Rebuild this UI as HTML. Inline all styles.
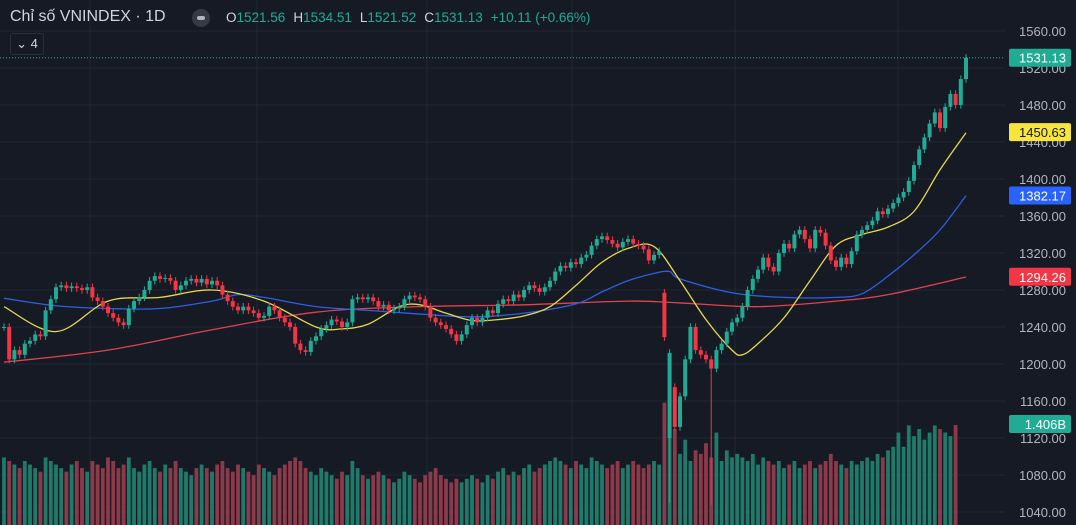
<!DOCTYPE html>
<html><head><meta charset="utf-8">
<style>
html,body{margin:0;padding:0;background:#161a25;}
body{width:1076px;height:525px;overflow:hidden;position:relative;font-family:"Liberation Sans","Noto Sans CJK SC",sans-serif;}
svg{position:absolute;left:0;top:0;}
.hdr{position:absolute;left:10px;top:8px;color:#d1d4dc;font-size:16px;white-space:nowrap;}
.ohlc{position:absolute;left:226px;top:10px;font-size:13.5px;color:#d1d4dc;white-space:nowrap;}
.ohlc .v{color:#22ab94;margin-right:8px;}
</style></head><body>
<svg id="chart" width="1076" height="525"></svg>
<div class="hdr">Chỉ số VNINDEX · 1D</div>
<div style="position:absolute;left:192px;top:9px;width:18px;height:18px;border-radius:9px;background:#363a45;"><div style="position:absolute;left:5px;top:7px;width:8px;height:4px;border-radius:2px;background:#b2b5be"></div></div>
<div class="ohlc">O<span class="v">1521.56</span>H<span class="v">1534.51</span>L<span class="v">1521.52</span>C<span class="v">1531.13</span><span class="v">+10.11 (+0.66%)</span></div>
<div style="position:absolute;left:10px;top:33px;width:32px;height:20px;border:1px solid #2a2e39;border-radius:3px;color:#d1d4dc;font-size:13px;line-height:20px;text-align:center;">⌄ 4</div>
<script>
const closes=[1240,1205,1215,1210,1222,1225,1232,1230,1258,1270,1283,1285,1282,1284,1282,1280,1283,1272,1268,1262,1255,1250,1245,1242,1260,1268,1272,1280,1290,1295,1292,1293,1290,1280,1285,1290,1292,1288,1292,1286,1290,1285,1275,1268,1262,1258,1262,1258,1255,1250,1252,1262,1258,1250,1245,1240,1222,1215,1213,1225,1230,1238,1242,1248,1246,1240,1245,1270,1272,1270,1272,1268,1262,1264,1258,1260,1262,1270,1274,1272,1270,1262,1250,1245,1242,1238,1232,1225,1232,1242,1250,1245,1250,1258,1255,1265,1270,1268,1275,1272,1280,1285,1282,1278,1283,1290,1300,1306,1304,1310,1308,1315,1318,1328,1335,1338,1334,1330,1326,1332,1335,1330,1328,1324,1312,1318,1322,1229,1212,1132,1165,1205,1240,1215,1210,1205,1195,1215,1222,1235,1245,1250,1262,1280,1292,1302,1315,1305,1300,1320,1330,1325,1340,1345,1335,1325,1345,1342,1328,1312,1305,1315,1308,1322,1340,1345,1350,1355,1365,1362,1368,1374,1380,1386,1398,1415,1432,1445,1460,1472,1455,1478,1492,1480,1508,1531];
const specialOpenIdx=[127,128,129];
const specialOpenVal=[1277,1120,1175];
const specialLowIdx=[128,136];
const specialLowVal=[1050,1048];
const volumes=[0.95,0.9,0.85,0.8,0.9,0.85,0.8,0.75,0.95,0.9,0.85,0.8,0.75,0.85,0.9,0.8,0.75,0.9,0.85,0.8,0.95,0.9,0.8,0.85,0.95,0.8,0.75,0.85,0.9,0.8,0.75,0.85,0.8,0.9,0.8,0.75,0.7,0.8,0.85,0.8,0.75,0.85,0.9,0.8,0.75,0.85,0.8,0.75,0.7,0.85,0.8,0.75,0.7,0.8,0.85,0.9,0.95,0.9,0.8,0.75,0.7,0.8,0.75,0.7,0.65,0.75,0.7,0.9,0.8,0.7,0.65,0.7,0.75,0.7,0.65,0.6,0.65,0.75,0.7,0.65,0.6,0.7,0.75,0.8,0.7,0.65,0.6,0.65,0.6,0.65,0.7,0.65,0.6,0.7,0.65,0.75,0.8,0.7,0.75,0.7,0.8,0.85,0.75,0.8,0.85,0.9,0.95,0.9,0.85,0.8,0.9,0.85,0.8,0.95,0.9,0.85,0.8,0.85,0.9,0.8,0.85,0.9,0.85,0.8,0.85,0.9,0.85,1.72,1.45,1.35,1.0,1.2,0.9,1.05,1.0,1.15,0.95,1.3,0.9,1.05,0.95,1.0,0.95,0.9,1.0,0.85,0.95,0.9,0.85,0.9,0.8,0.85,0.9,0.8,0.85,0.9,0.8,0.85,0.9,1.0,0.9,0.85,0.8,0.9,0.85,0.9,0.95,0.9,1.0,0.95,1.05,1.1,1.3,1.1,1.4,1.25,1.35,1.2,1.3,1.4,1.35,1.3,1.25,1.406];
const maYellowIdx=[0,10,20,30,40,50,60,65,70,76,80,85,90,95,100,105,110,115,120,125,130,135,140,142,145,150,155,160,165,170,175,180,185];
const maYellowVal=[1262,1235,1268,1272,1280,1268,1240,1238,1243,1262,1264,1255,1247,1248,1252,1262,1285,1310,1325,1327,1290,1248,1215,1210,1222,1250,1290,1328,1340,1348,1365,1410,1450];
const maBlueIdx=[0,10,20,30,40,45,50,60,70,80,90,100,110,115,120,125,128,130,140,150,160,165,170,175,180,185];
const maBlueVal=[1271,1263,1260,1260,1268,1275,1272,1262,1258,1254,1251,1255,1265,1278,1290,1298,1300,1292,1277,1272,1272,1276,1295,1318,1345,1382];
const maRedIdx=[0,20,40,60,80,100,120,130,145,160,170,185];
const maRedVal=[1202,1215,1237,1256,1262,1264,1268,1266,1262,1268,1275,1294];
const priceTicks=[1560,1520,1480,1440,1400,1360,1320,1280,1240,1200,1160,1120,1080,1040];

const NS="http://www.w3.org/2000/svg";
const svg=document.getElementById('chart');
const Y=v=>31+(1560-v)*0.925;
const X=i=>4+i*5.2;
const VY=v=>525-v*(100/1.406);
function el(t,a){const e=document.createElementNS(NS,t);for(const k in a)e.setAttribute(k,a[k]);svg.appendChild(e);return e;}

for(const t of priceTicks){const g=el('line',{x1:0,x2:1005,y1:Y(t),y2:Y(t),stroke:'#232734','stroke-width':1});

}
for(const gx of [90,257,427,572,735,898]){const g=el('line',{x1:gx,x2:gx,y1:0,y2:525,stroke:'#232734','stroke-width':1});

}

closes.forEach((c,i)=>{
  let o=i>0?closes[i-1]:c; const si=specialOpenIdx.indexOf(i); if(si>=0)o=specialOpenVal[si];
  const up=c>=o; const y=VY(volumes[i]);
  const r=el('rect',{x:X(i)-1.9,y:y,width:3.8,height:525-y,fill:up?'#1f7a6a':'#8c3a4a'});
  
  
});

function ma(idx,val,color,name){
  const pts=idx.map((k,j)=>[X(k),Y(val[j])]);
  let d='M'+pts[0][0]+','+pts[0][1];
  for(let j=0;j<pts.length-1;j++){const p0=pts[Math.max(0,j-1)],p1=pts[j],p2=pts[j+1],p3=pts[Math.min(pts.length-1,j+2)];
    d+=' C'+(p1[0]+(p2[0]-p0[0])/6)+','+(p1[1]+(p2[1]-p0[1])/6)+' '+(p2[0]-(p3[0]-p1[0])/6)+','+(p2[1]-(p3[1]-p1[1])/6)+' '+p2[0]+','+p2[1];}
  const p=el('path',{d:d,fill:'none',stroke:color,'stroke-width':1.3});
  
  
}
ma(maRedIdx,maRedVal,'#e0424f','ma-200-line');
ma(maBlueIdx,maBlueVal,'#2f5fe0','ma-50-line');
ma(maYellowIdx,maYellowVal,'#e8d84a','ma-20-line');

closes.forEach((c,i)=>{
  let o=i>0?closes[i-1]:c; const si=specialOpenIdx.indexOf(i); if(si>=0)o=specialOpenVal[si];
  const up=c>=o; const col=up?'#22ab94':'#f23645';
  let hi=Math.max(o,c)+4, lo=Math.min(o,c)-4; const li=specialLowIdx.indexOf(i); if(li>=0)lo=specialLowVal[li];
  const w=el('line',{x1:X(i),x2:X(i),y1:Y(hi),y2:Y(lo),stroke:col,'stroke-width':1});
  
  
  const top=Y(Math.max(o,c)),h=Math.max(1,Y(Math.min(o,c))-top);
  const b=el('rect',{x:X(i)-2,y:top,width:4,height:h,fill:col});
  
  
});

const pl=el('line',{x1:0,x2:1005,y1:Y(1531.13),y2:Y(1531.13),stroke:'#22ab94','stroke-width':1,'stroke-dasharray':'1,2'});



for(const t of priceTicks){const tx=el('text',{x:1066,y:Y(t)+5,'text-anchor':'end',fill:'#b2b5be','font-size':13,'font-family':'Liberation Sans, sans-serif'});
tx.textContent=t.toFixed(2);

}

function tag(v,y,bg,fg,name){
  const r=el('rect',{x:1009,y:y-9,width:62,height:18,rx:2,fill:bg});
  
  
  const t=el('text',{x:1066,y:y+5,'text-anchor':'end',fill:fg,'font-size':13,'font-family':'Liberation Sans, sans-serif'});
  t.textContent=v;
  
  
}
tag('1531.13',Y(1531.13),'#22ab94','#fff','last-price-label');
tag('1450.63',Y(1450.63),'#f7e53b','#131722','ma-20-label');
tag('1382.17',Y(1382.17),'#2962ff','#fff','ma-50-label');
tag('1294.26',Y(1294.26),'#f23645','#fff','ma-200-label');
tag('1.406B',VY(1.406)-1,'#22ab94','#fff','volume-label');
</script>
</body></html>
